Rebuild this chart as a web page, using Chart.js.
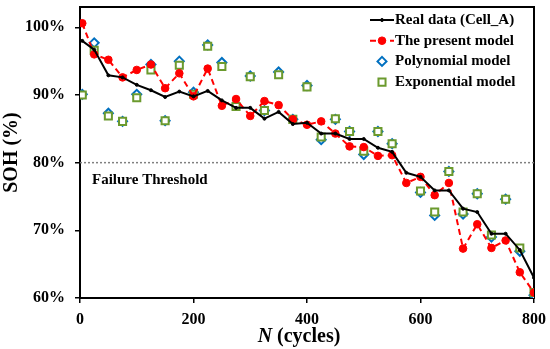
<!DOCTYPE html>
<html>
<head>
<meta charset="utf-8">
<script src="https://cdn.jsdelivr.net/npm/chart.js@4.4.1/dist/chart.umd.min.js"></script>
<style>
  body { margin: 0; background: #fff; }
</style>
</head>
<body>
<canvas id="sohChart" width="550" height="349"></canvas>
<script>
// cycle numbers of the measurements
const cycles = [4, 25, 50, 75, 100, 125, 150, 175, 200, 225, 250, 275, 300, 325, 350, 375, 400,
  425, 450, 475, 500, 525, 550, 575, 600, 625, 650, 675, 700, 725, 750, 775, 800];

// SOH values (%)
const realData = [98.0, 96.7, 92.9, 92.6, 91.5, 90.7, 89.7, 90.5, 89.8, 90.6, 89.2, 88.1, 88.1, 86.5, 87.5, 85.7, 85.9,
  84.3, 84.3, 83.5, 83.5, 82.2, 81.6, 78.5, 77.9, 75.9, 75.9, 73.2, 72.7, 69.5, 69.5, 67.1, 63.0];
const presentModel = [100.6, 96.0, 95.2, 92.6, 93.7, 94.5, 91.0, 93.2, 89.8, 93.9, 88.4, 89.4, 86.9, 89.1, 88.5, 86.4, 85.6,
  86.1, 84.3, 82.4, 82.3, 81.0, 81.1, 77.0, 77.9, 75.2, 77.0, 67.3, 70.9, 67.4, 68.5, 63.8, 60.8];
const polyModel = [90.1, 97.7, 87.3, 86.1, 90.1, 94.5, 86.2, 95.0, 90.4, 97.4, 94.8, 88.5, 92.8, 87.7, 93.4, 86.4, 91.4,
  83.4, 86.4, 84.6, 81.2, 84.6, 82.8, null, 75.6, 72.2, 78.7, 72.4, 75.4, 69.0, 74.6, 66.9, 60.4];
const expModel = [90.0, 96.6, 86.9, 86.1, 89.6, 93.7, 86.2, 94.4, 90.1, 97.2, 94.2, 88.3, 92.7, 87.7, 93.0, 86.4, 91.2,
  83.8, 86.5, 84.6, 81.7, 84.6, 82.8, null, 75.8, 72.7, 78.7, 72.7, 75.4, 69.3, 74.6, 67.4, 60.8];

const threshold = 80;
const thresholdLabel = 'Failure Threshold';
const xRange = [0, 800];
const yRange = [60, 103];
const yTickStep = 10;
const xTickStep = 200;

const serif = '"Liberation Serif", "Times New Roman", serif';

function toPoints(values) {
  return cycles.map((c, i) => ({ x: c, y: values[i] }));
}

// legend inside the top right of the plot, and the frame + threshold text
const extras = {
  id: 'extras',
  beforeDatasetsDraw(chart) {
    const { ctx, chartArea } = chart;
    ctx.save();
    ctx.strokeStyle = '#000';
    ctx.lineWidth = 2;
    ctx.strokeRect(chartArea.left, chartArea.top, chartArea.right - chartArea.left, chartArea.bottom - chartArea.top);
    ctx.restore();
  },
  afterDatasetsDraw(chart) {
    const { ctx, chartArea, scales } = chart;
    ctx.save();

    // threshold text
    ctx.font = 'bold 15px ' + serif;
    ctx.fillStyle = '#000';
    ctx.textBaseline = 'middle';
    ctx.textAlign = 'left';
    ctx.fillText(thresholdLabel, chartArea.left + 12, scales.y.getPixelForValue(threshold) + 17);

    // legend
    const textX = chartArea.right - 139;
    const symX = textX - 13;
    let y = chartArea.top + 13;
    chart.data.datasets.forEach(ds => {
      if (!ds.inLegend) return;
      if (ds.showLine !== false) {
        ctx.beginPath();
        ctx.strokeStyle = ds.borderColor;
        ctx.lineWidth = ds.borderWidth;
        ctx.setLineDash(ds.borderDash || []);
        ctx.moveTo(symX - 12, y);
        ctx.lineTo(symX + 12, y);
        ctx.stroke();
        ctx.setLineDash([]);
      }
      const r = ds.pointRadius;
      ctx.beginPath();
      if (ds.pointStyle === 'rectRot') {
        ctx.moveTo(symX, y - r); ctx.lineTo(symX + r, y); ctx.lineTo(symX, y + r); ctx.lineTo(symX - r, y); ctx.closePath();
      } else if (ds.pointStyle === 'rect') {
        const s = r * Math.SQRT1_2;
        ctx.rect(symX - s, y - s, 2 * s, 2 * s);
      } else {
        ctx.arc(symX, y, r, 0, Math.PI * 2);
      }
      ctx.fillStyle = ds.pointBackgroundColor;
      ctx.fill();
      ctx.strokeStyle = ds.pointBorderColor;
      ctx.lineWidth = ds.pointBorderWidth;
      ctx.stroke();

      ctx.fillStyle = '#000';
      ctx.fillText(ds.label, textX, y);
      y += 20.7;
    });

    // x axis title with italic N
    const ty = 337;
    ctx.textBaseline = 'middle';
    ctx.font = 'italic bold 20px ' + serif;
    const wN = ctx.measureText('N').width;
    ctx.font = 'bold 20px ' + serif;
    const wRest = ctx.measureText(' (cycles)').width;
    let tx = (chartArea.left + chartArea.right) / 2 - 8 - (wN + wRest) / 2;
    ctx.font = 'italic bold 20px ' + serif;
    ctx.fillText('N', tx, ty);
    ctx.font = 'bold 20px ' + serif;
    ctx.fillText(' (cycles)', tx + wN, ty);
    ctx.restore();
  }
};

const ctx = document.getElementById('sohChart');
const sohChart = new Chart(ctx, {
  type: 'scatter',
  data: {
    datasets: [{
      label: 'Real data (Cell_A)',
      data: toPoints(realData),
      showLine: true,
      borderColor: '#000',
      borderWidth: 2,
      pointRadius: 1.5,
      pointBackgroundColor: '#000',
      pointBorderColor: '#000',
      pointBorderWidth: 1,
      inLegend: true,
      order: 1
    }, {
      label: 'The present model',
      data: toPoints(presentModel),
      showLine: true,
      borderColor: '#ff0000',
      borderWidth: 2,
      borderDash: [6, 4],
      pointRadius: 3.8,
      pointBackgroundColor: '#ff0000',
      pointBorderColor: '#ff0000',
      pointBorderWidth: 1,
      inLegend: true,
      order: 2
    }, {
      label: 'Polynomial model',
      data: toPoints(polyModel),
      showLine: false,
      pointStyle: 'rectRot',
      pointRadius: 4.5,
      pointBackgroundColor: '#fff',
      pointBorderColor: '#0070c0',
      pointBorderWidth: 2,
      inLegend: true,
      order: 4
    }, {
      label: 'Exponential model',
      data: toPoints(expModel),
      showLine: false,
      pointStyle: 'rect',
      pointRadius: 5,
      pointBackgroundColor: '#fff',
      pointBorderColor: '#6b9a2e',
      pointBorderWidth: 2,
      inLegend: true,
      order: 3
    }, {
      label: 'threshold',
      data: [{ x: xRange[0], y: threshold }, { x: xRange[1], y: threshold }],
      showLine: true,
      borderColor: '#808080',
      borderWidth: 1.5,
      borderDash: [2, 2],
      pointRadius: 0,
      order: 5
    }]
  },
  options: {
    responsive: false,
    animation: false,
    devicePixelRatio: 1,
    layout: { padding: { top: 4, right: 16, left: 0, bottom: 0 } },
    plugins: {
      legend: { display: false },
      tooltip: { enabled: false }
    },
    scales: {
      x: {
        type: 'linear',
        min: xRange[0],
        max: xRange[1],
        afterFit(scale) {
          scale.height = 51;
          scale.paddingLeft = 0;
          scale.paddingRight = 0;
        },
        border: { display: true, color: '#000', width: 2 },
        grid: { drawOnChartArea: false, drawTicks: true, tickLength: 5, color: '#000', lineWidth: 1.5 },
        ticks: {
          stepSize: xTickStep,
          padding: 7,
          color: '#000',
          maxRotation: 0,
          font: { family: serif, size: 16, weight: 'bold' }
        }
      },
      y: {
        min: yRange[0],
        max: yRange[1],
        afterFit(scale) {
          scale.width = 80;
          scale.paddingTop = 0;
          scale.paddingBottom = 0;
        },
        afterBuildTicks(scale) {
          scale.ticks = scale.ticks.filter(t => t.value % yTickStep === 0);
        },
        border: { display: true, color: '#000', width: 2 },
        grid: { drawOnChartArea: false, drawTicks: true, tickLength: 5, color: '#000', lineWidth: 1.5 },
        title: {
          display: true,
          text: 'SOH (%)',
          color: '#000',
          padding: 0,
          font: { family: serif, size: 20, weight: 'bold' }
        },
        ticks: {
          stepSize: yTickStep,
          padding: 10,
          color: '#000',
          font: { family: serif, size: 16, weight: 'bold' },
          callback: v => v + '%'
        }
      }
    }
  },
  plugins: [extras]
});
</script>
</body>
</html>
